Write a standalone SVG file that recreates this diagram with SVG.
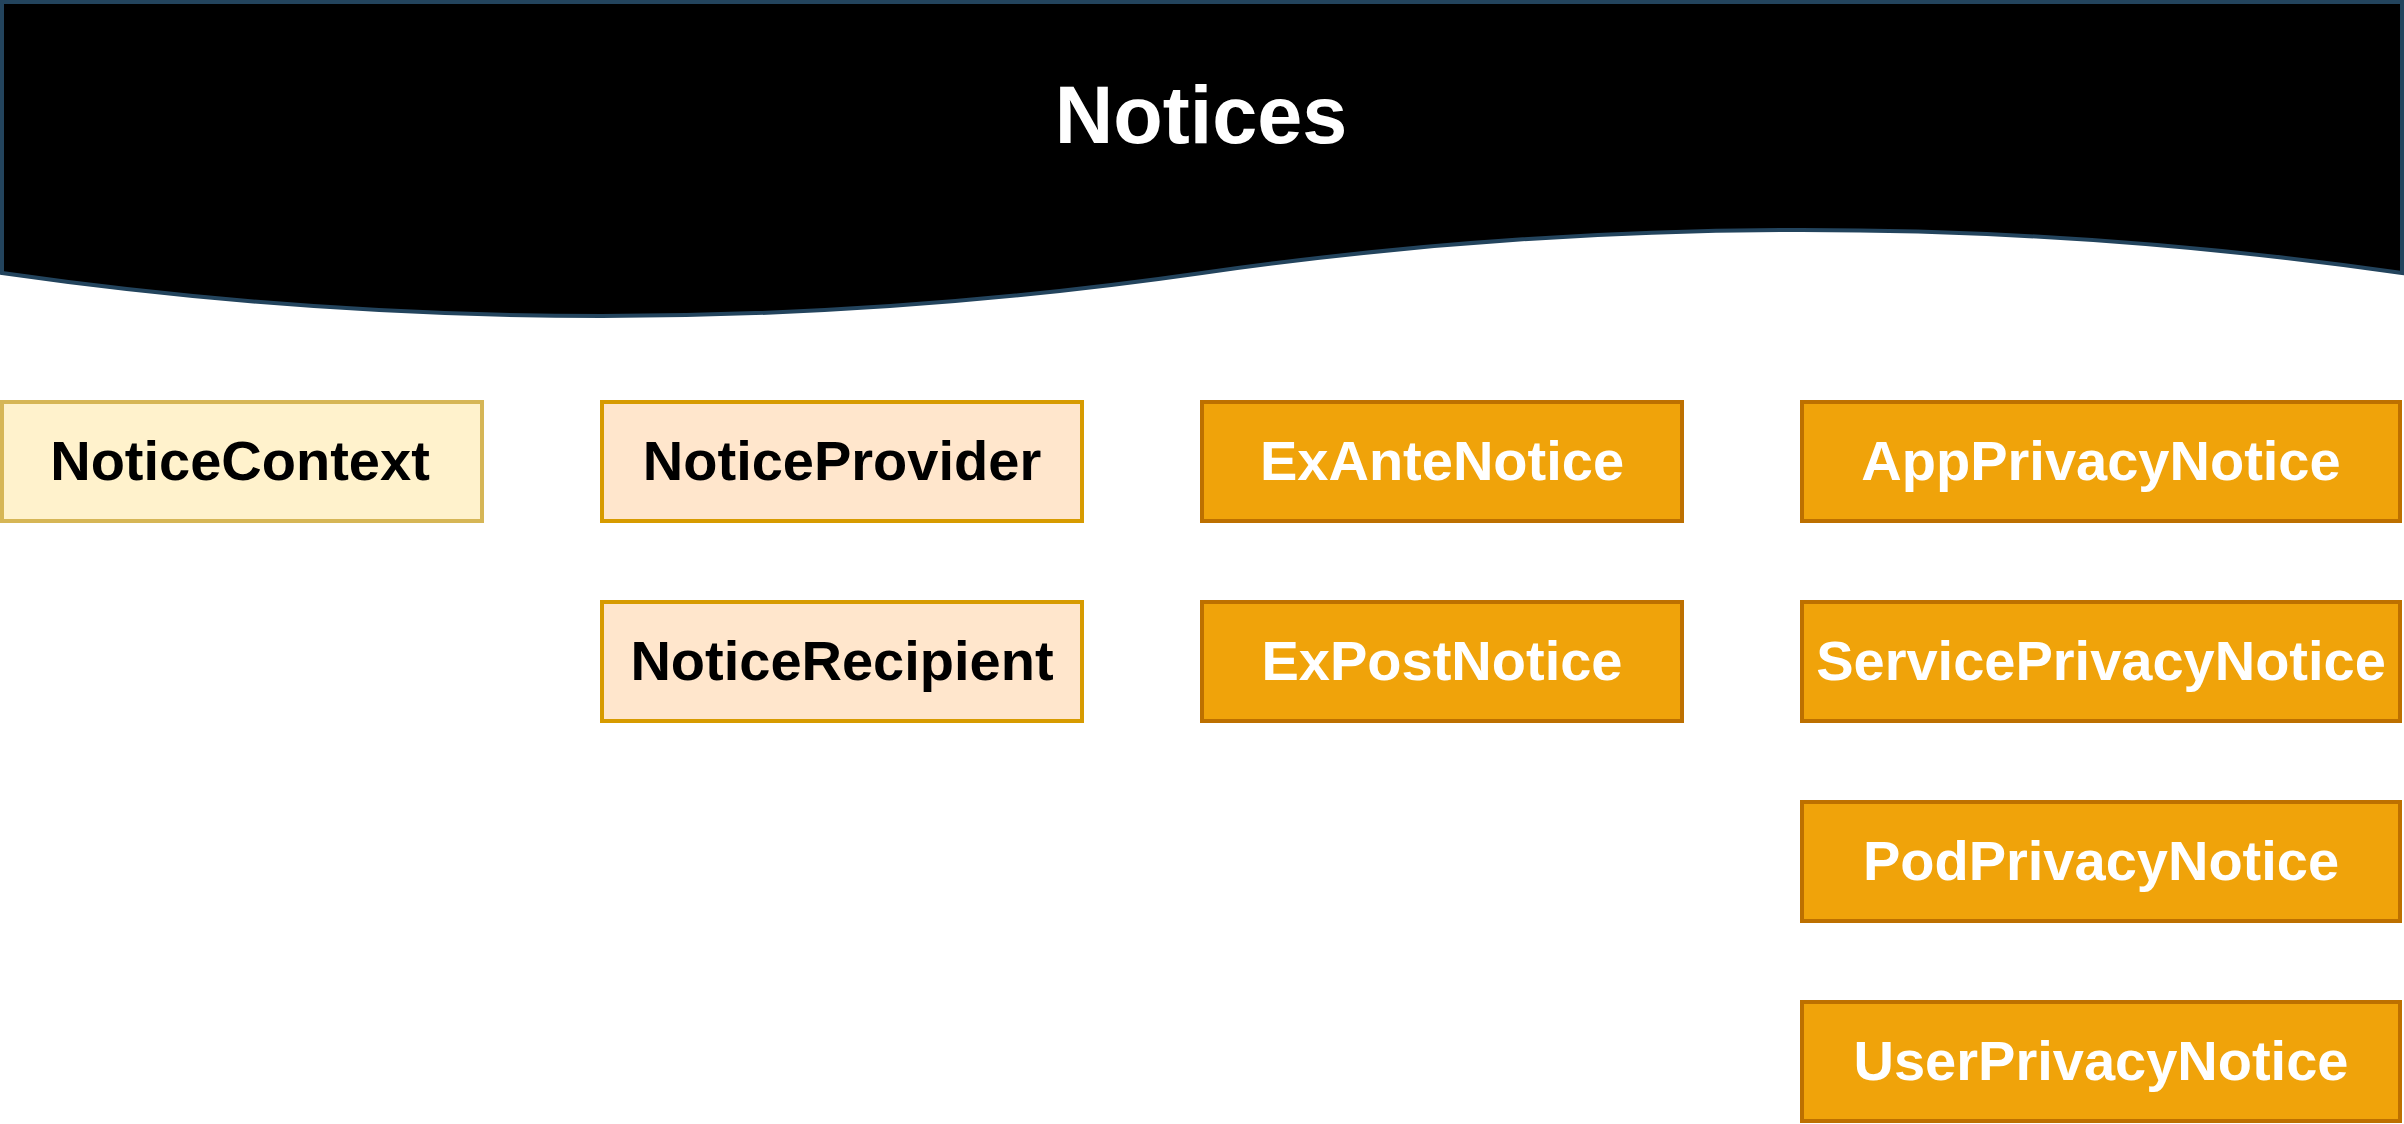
<svg xmlns="http://www.w3.org/2000/svg" width="2404" height="1124" viewBox="0 0 2404 1124">
<style>
.lbl{font-family:"Liberation Sans",Arial,sans-serif;font-weight:bold;font-size:56px;text-anchor:middle}
.ctx{fill:#fff2cc;stroke:#d6b656;stroke-width:4}
.party{fill:#ffe6cc;stroke:#d79b00;stroke-width:4}
.notice{fill:#f0a30a;stroke:#bd7000;stroke-width:4}
.dark{fill:#000000}
.light{fill:#ffffff}
</style>
<rect width="2404" height="1124" fill="#ffffff"/>
<g id="header">
<path d="M2,2 H2402 V273 Q1802,187 1202,273 Q602,359 2,273 Z" fill="#000000" stroke="#23445d" stroke-width="4"/>
<text x="1201" y="143" class="lbl light" style="font-size:81px">Notices</text>
</g>
<g id="connectors"></g>
<g id="NoticeContext"><rect class="ctx" x="2" y="402" width="480" height="119"/><text class="lbl dark" x="240" y="480">NoticeContext</text></g>
<g id="NoticeProvider"><rect class="party" x="602" y="402" width="480" height="119"/><text class="lbl dark" x="842" y="480">NoticeProvider</text></g>
<g id="NoticeRecipient"><rect class="party" x="602" y="602" width="480" height="119"/><text class="lbl dark" x="842" y="680">NoticeRecipient</text></g>
<g id="ExAnteNotice"><rect class="notice" x="1202" y="402" width="480" height="119"/><text class="lbl light" x="1442" y="480">ExAnteNotice</text></g>
<g id="ExPostNotice"><rect class="notice" x="1202" y="602" width="480" height="119"/><text class="lbl light" x="1442" y="680">ExPostNotice</text></g>
<g id="AppPrivacyNotice"><rect class="notice" x="1802" y="402" width="598" height="119"/><text class="lbl light" x="2101" y="480">AppPrivacyNotice</text></g>
<g id="ServicePrivacyNotice"><rect class="notice" x="1802" y="602" width="598" height="119"/><text class="lbl light" x="2101" y="680">ServicePrivacyNotice</text></g>
<g id="PodPrivacyNotice"><rect class="notice" x="1802" y="802" width="598" height="119"/><text class="lbl light" x="2101" y="880">PodPrivacyNotice</text></g>
<g id="UserPrivacyNotice"><rect class="notice" x="1802" y="1002" width="598" height="119"/><text class="lbl light" x="2101" y="1080">UserPrivacyNotice</text></g>
</svg>
